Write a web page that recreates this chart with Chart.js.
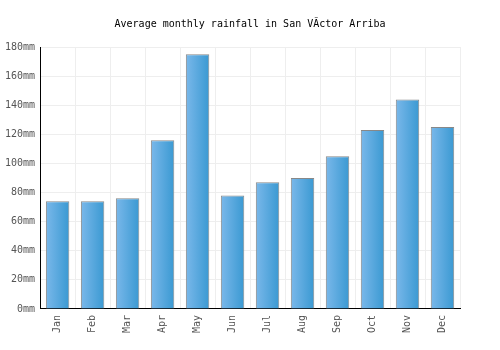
<!DOCTYPE html>
<html>
<head>
<meta charset="utf-8">
<script src="https://cdn.jsdelivr.net/npm/chart.js@4"></script>
<style>
  html, body { margin: 0; padding: 0; background: #fff; }
  #wrap { width: 500px; height: 350px; }
</style>
</head>
<body>
<div id="wrap"><canvas id="rainChart" width="500" height="350"></canvas></div>
<script>
// Datos del gráfico
const months = ['Jan', 'Feb', 'Mar', 'Apr', 'May', 'Jun', 'Jul', 'Aug', 'Sep', 'Oct', 'Nov', 'Dec'];
const rainfall = [74, 74, 76, 116, 175, 78, 87, 90, 105, 123, 144, 125];
const yTicks = [0, 20, 40, 60, 80, 100, 120, 140, 160, 180];

const FONT = 'DejaVu Sans Mono';

// Degradado horizontal por barra
const barGradient = {
    id: 'barGradient',
    beforeDatasetDraw(chart, args) {
        const ctx = chart.ctx;
        args.meta.data.forEach(bar => {
            const left = bar.x - bar.width / 2;
            const right = bar.x + bar.width / 2;
            const g = ctx.createLinearGradient(left, 0, right, 0);
            g.addColorStop(0, '#7ab8ea');
            g.addColorStop(1, '#3a99d2');
            bar.options.backgroundColor = g;
        });
    }
};

new Chart(document.getElementById('rainChart'), {
    type: 'bar',
    data: {
        labels: months,
        datasets: [{
            data: rainfall,
            // scriptable para que cada barra tenga sus propias opciones
            backgroundColor: () => '#4fa6dc',
            borderColor: '#888888',
            borderWidth: 1,
            categoryPercentage: 0.67,
            barPercentage: 1
        }]
    },
    options: {
        responsive: false,
        animation: false,
        layout: { padding: { left: 0, right: 0, top: 0, bottom: 11 } },
        plugins: {
            legend: { display: false },
            tooltip: { enabled: false },
            title: {
                display: true,
                text: 'Average monthly rainfall in San V\u00C3\u00ADctor Arriba',
                color: '#000',
                font: { family: FONT, size: 10, weight: 'normal' },
                padding: { top: 18, bottom: 17 }
            }
        },
        scales: {
            x: {
                grid: { color: '#eeeeee', drawTicks: false },
                border: { color: '#000', width: 1 },
                ticks: {
                    color: '#555',
                    font: { family: FONT, size: 10 },
                    minRotation: 90,
                    maxRotation: 90,
                    padding: 6
                }
            },
            y: {
                min: 0,
                max: 180,
                afterBuildTicks(axis) {
                    axis.ticks = yTicks.map(v => ({ value: v }));
                },
                grid: { color: '#eeeeee', drawTicks: false },
                border: { color: '#000', width: 1 },
                ticks: {
                    color: '#555',
                    font: { family: FONT, size: 10 },
                    padding: 5,
                    callback: v => v + 'mm'
                }
            },
            // eje vacío a la derecha, solo reserva espacio
            yRight: {
                position: 'right',
                min: 0,
                max: 180,
                grid: { display: false },
                border: { display: false },
                ticks: { display: false },
                afterFit(axis) { axis.width = 40; }
            }
        }
    },
    plugins: [barGradient]
});
</script>
</body>
</html>
